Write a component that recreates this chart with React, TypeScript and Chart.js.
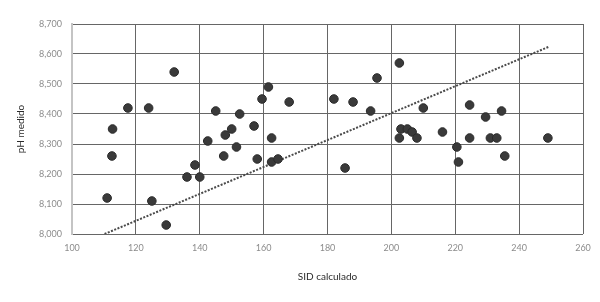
import React, { useEffect, useRef } from "react";
import { Chart, registerables } from "chart.js";

Chart.register(...registerables);

const sidValues = [132, 117.5, 124, 145, 112.7, 148, 142.5, 112.5, 147.5, 138.5, 136, 140, 111, 125, 129.5, 161.5, 159.5, 168, 182, 188, 152.5, 150, 157, 162.5, 151.5, 158, 162.5, 164.5, 185.5, 202.5, 195.5, 193.5, 210, 224.5, 229.5, 234.5, 203, 205, 206.5, 202.5, 208, 216, 224.5, 231, 233, 249, 220.5, 221, 235.5];
const phValues = [8.54, 8.42, 8.42, 8.41, 8.35, 8.33, 8.31, 8.26, 8.26, 8.23, 8.19, 8.19, 8.12, 8.11, 8.03, 8.49, 8.45, 8.44, 8.45, 8.44, 8.40, 8.35, 8.36, 8.32, 8.29, 8.25, 8.24, 8.25, 8.22, 8.57, 8.52, 8.41, 8.42, 8.43, 8.39, 8.41, 8.35, 8.35, 8.34, 8.32, 8.32, 8.34, 8.32, 8.32, 8.32, 8.32, 8.29, 8.24, 8.26];
const trendX = [110.2, 249.5];
const trendY = [8.0, 8.625];

const xTitle = "SID calculado";
const yTitle = "pH medido";
const xMin = 100, xMax = 260, xStep = 20;
const yMin = 8.0, yMax = 8.7, yStep = 0.1;

export default function App() {
  const ref = useRef<HTMLCanvasElement>(null);
  useEffect(() => {
    document.body.style.margin = "0";
    const canvas = ref.current!;
    const gridColor = "#666666";
    const font = { family: "Lato", size: 9 };
    const chart = new Chart(canvas, {
      type: "scatter",
      data: {
        datasets: [
          {
            label: "pH",
            data: sidValues.map((x, i) => ({ x, y: phValues[i] })),
            backgroundColor: "#3a3a3a",
            borderColor: "#2a2a2a",
            borderWidth: 1,
            pointRadius: 4.3,
            order: 1,
          },
          {
            label: "trend",
            data: trendX.map((x, i) => ({ x, y: trendY[i] })),
            showLine: true,
            pointRadius: 0,
            borderColor: "#4a4a4a",
            borderWidth: 2,
            borderDash: [2, 1.5],
            order: 2,
          },
        ],
      },
      options: {
        animation: false,
        responsive: false,
        maintainAspectRatio: false,
        layout: { padding: { left: 0, top: 24, right: 17, bottom: 0 } },
        plugins: { legend: { display: false }, tooltip: { enabled: false } },
        scales: {
          x: {
            type: "linear",
            min: xMin,
            max: xMax,
            afterFit: (s: any) => { s.height = 68; },
            ticks: {
              stepSize: xStep,
              color: "#8c8c8c",
              font,
              padding: 9,
              maxRotation: 0,
            },
            grid: {
              color: (c: any) => (c.index === 0 ? "rgba(0,0,0,0)" : gridColor),
              lineWidth: 1,
              drawTicks: false,
            },
            border: { display: false },
            title: {
              display: true,
              text: xTitle,
              color: "#2b2b2b",
              font: { family: "Lato", size: 10 },
              padding: { top: 0, bottom: 19 },
            },
          },
          y: {
            type: "linear",
            min: yMin,
            max: yMax,
            afterFit: (s: any) => { s.width = 72; },
            ticks: {
              stepSize: yStep,
              color: "#8c8c8c",
              font,
              padding: 10,
              callback: (v: any) => Number(v).toFixed(3).replace(".", ","),
            },
            grid: { color: gridColor, lineWidth: 1, drawTicks: false },
            border: { display: true, color: "#c4c4c4", width: 2 },
            title: {
              display: true,
              text: yTitle,
              color: "#2b2b2b",
              font: { family: "Lato", size: 10 },
              padding: { top: 15, bottom: 0 },
            },
          },
        },
      },
    });
    return () => chart.destroy();
  }, []);
  return (
    <div style={{ position: "absolute", left: 0, top: 0, width: 600, height: 302, background: "#fff" }}>
      <canvas ref={ref} width={600} height={302} />
    </div>
  );
}
